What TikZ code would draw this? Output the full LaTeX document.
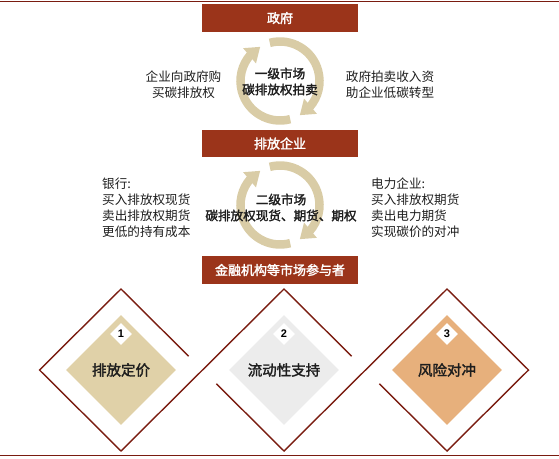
\documentclass[tikz,border=0pt]{standalone}
\usepackage{fontspec}
\newfontfamily\cjk[AutoFakeBold=2]{Noto Sans CJK SC}
\newfontfamily\ziffer{Liberation Sans}
\usetikzlibrary{arrows.meta,bending,calc,shapes.geometric}
\definecolor{rost}{RGB}{155,52,26}
\definecolor{dunkelrot}{RGB}{122,28,16}
\definecolor{ringfarbe}{RGB}{217,204,166}
\definecolor{sandfarbe}{RGB}{224,209,168}
\definecolor{grau}{RGB}{236,236,236}
\definecolor{apricot}{RGB}{231,176,124}
\definecolor{schrift}{RGB}{30,30,30}

\begin{document}
\begin{tikzpicture}[x=1pt,y=-1pt,
  kasten/.style={fill=rost,text=white,minimum width=156pt,minimum height=27.5pt,inner sep=0pt,font=\cjk\bfseries\fontsize{13}{15}\selectfont},
  text klein/.style={text=schrift,inner sep=0pt,font=\cjk\fontsize{12.6}{16}\selectfont},
  text fett/.style={text=schrift,inner sep=0pt,align=center,font=\cjk\bfseries\fontsize{12.6}{16}\selectfont},
  ring/.style={line width=8.5pt,draw=ringfarbe,-{Triangle[length=14pt,width=19pt]}},
  raute/.style={diamond,aspect=1,inner sep=0pt,minimum size=#1},
  umriss/.style={draw=dunkelrot,line width=1.4pt}]
\useasboundingbox (0,0) rectangle (559,458);
\draw [dunkelrot, line width=1.5pt] (0,1.5) -- (559,1.5);
\draw [dunkelrot, line width=1.2pt] (0,455.5) -- (559,455.5);

\node [kasten] (regierung) at (280,18) {政府};
\node [kasten] (emittenten) at (280,143.5) {排放企业};
\node [kasten] (finanz) at (280,270) {金融机构等市场参与者};

\draw [ring] (280,81) ++(75:39.5) arc [start angle=75, end angle=240, radius=39.5];
\draw [ring] (280,81) ++(-105:39.5) arc [start angle=-105, end angle=60, radius=39.5];
\draw [ring] (280,205) ++(75:39.5) arc [start angle=75, end angle=240, radius=39.5];
\draw [ring] (280,205) ++(-105:39.5) arc [start angle=-105, end angle=60, radius=39.5];

\node [text fett] (markt1) at (280,81.5) {一级市场\\碳排放权拍卖};
\node [text klein, align=center] (kauf) at (183.5,84.5) {企业向政府购\\买碳排放权};
\node [text klein, align=center] (auktion) at (390,84.5) {政府拍卖收入资\\助企业低碳转型};

\node [text fett] (markt2) at (281,207.5) {二级市场\\碳排放权现货、期货、期权};
\node [text klein, align=left, anchor=west] (bank) at (102,208) {银行:\\买入排放权现货\\卖出排放权期货\\更低的持有成本};
\node [text klein, align=left, anchor=west] (strom) at (371,208) {电力企业:\\买入排放权期货\\卖出电力期货\\实现碳价的对冲};

\foreach \n/\cx/\farbe/\beschr in {1/121/sandfarbe/排放定价, 2/284/grau/流动性支持, 3/447/apricot/风险对冲} {
  \coordinate (oben\n) at (\cx,289);
  \coordinate (rechts\n) at (\cx+81.5,370);
  \coordinate (unten\n) at (\cx,451);
  \coordinate (links\n) at (\cx-81.5,370);
  \node [raute=110pt, fill=\farbe, text=schrift, font=\cjk\bfseries\fontsize{14.5}{16}\selectfont] (feld\n) at (\cx,370) {\beschr};
  \node [raute=22pt, fill=white, font=\ziffer\bfseries\fontsize{11}{12}\selectfont] (nr\n) at (\cx,334) {\n};
}
\draw [umriss] ($(oben1)!0.83!(rechts1)$) -- (oben1) -- (links1) -- (unten1) -- (oben2) -- ($(oben2)!0.83!(rechts2)$);
\draw [umriss] ($(links2)!0.17!(unten2)$) -- (unten2) -- (oben3) -- (rechts3) -- (unten3) -- ($(unten3)!0.83!(links3)$);
\end{tikzpicture}
\end{document}
